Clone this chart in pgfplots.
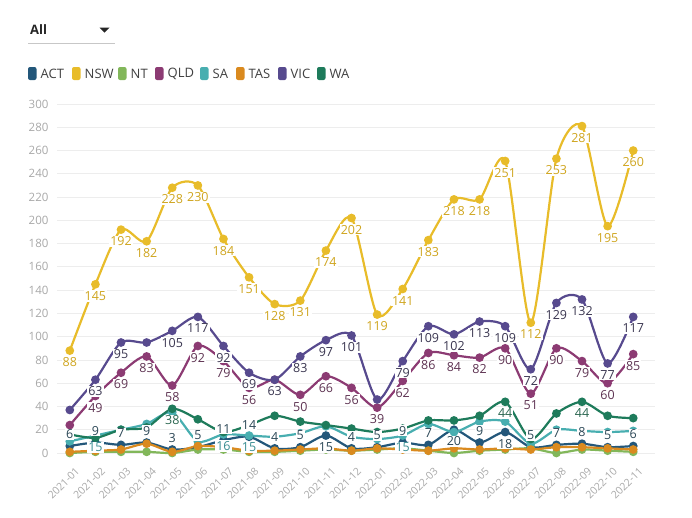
\documentclass[border=0pt]{standalone}
\usepackage{pgfplots}
\pgfplotsset{compat=1.18}
\usepackage{fontspec}
\setmainfont{Open Sans}
\definecolor{cACT}{HTML}{23577A}
\definecolor{cNSW}{HTML}{E8BC2A}
\definecolor{cNT}{HTML}{82B75A}
\definecolor{cQLD}{HTML}{8C3B73}
\definecolor{cSA}{HTML}{48AEB0}
\definecolor{cTAS}{HTML}{DA8A1F}
\definecolor{cVIC}{HTML}{574A8E}
\definecolor{cWA}{HTML}{1E7B5B}
\definecolor{tickgray}{HTML}{A8A8A8}
\definecolor{gridgray}{HTML}{EDEDED}
\definecolor{lNSW}{HTML}{CFA51E}
\definecolor{lVIC}{HTML}{3A3650}
\definecolor{lQLD}{HTML}{5E3352}
\definecolor{lACT}{HTML}{2B4756}
\definecolor{lSA}{HTML}{3A8E92}
\definecolor{lWA}{HTML}{2A6650}
\begin{document}
\begin{tikzpicture}[x=1pt,y=1pt]
\path[use as bounding box] (0,0) rectangle (692,-517);
% dropdown
\node[anchor=west, inner sep=0, font=\fontsize{13}{15}\selectfont\bfseries, text=black!85] at (30,-30) {All};
\fill[black!85] (99.5,-27.5) -- (109.5,-27.5) -- (104.5,-32.5) -- cycle;
\draw[black!22, line width=0.8] (28,-43) -- (115,-43);
% legend
\foreach \c/\t/\x in {cACT/ACT/28, cNSW/NSW/72, cNT/NT/118, cQLD/QLD/155, cSA/SA/200, cTAS/TAS/236, cVIC/VIC/278, cWA/WA/317}{
  \fill[\c, rounded corners=2] (\x,-67) rectangle ++(8.5,-13);
  \node[anchor=west, inner sep=0, font=\fontsize{13}{15}\selectfont, text=black!75] at (\x+12.5,-73.5) {\t};
}
\begin{axis}[
  at={(57pt,-453pt)}, anchor=south west, scale only axis,
  width=598pt, height=349pt,
  xmin=-0.5, xmax=22.85, ymin=0, ymax=300, clip=false,
  axis line style={draw=none}, major tick length=0pt,
  ytick distance=20, ymajorgrids, grid style={gridgray, line width=0.8pt},
  xtick={0,...,22},
  xticklabels={2021-01,2021-02,2021-03,2021-04,2021-05,2021-06,2021-07,2021-08,2021-09,2021-10,2021-11,2021-12,2022-01,2022-02,2022-03,2022-04,2022-05,2022-06,2022-07,2022-08,2022-09,2022-10,2022-11},
  x tick label style={rotate=45, anchor=north east, font=\fontsize{10.5}{11}\selectfont, text=tickgray, inner sep=0pt, xshift=-6pt, yshift=-13pt},
  y tick label style={font=\fontsize{11.5}{13}\selectfont, text=tickgray, xshift=-5pt},
  /pgf/number format/assume math mode=true,
  every axis plot/.append style={line width=2.2pt, smooth, tension=0.45, mark=*, mark size=3.2pt},
]
% series
\addplot[cACT, mark options={fill=cACT}] coordinates {(0,6)(1,9)(2,7)(3,9)(4,3)(5,5)(6,11)(7,14)(8,4)(9,5)(10,15)(11,4)(12,5)(13,9)(14,7)(15,20)(16,9)(17,18)(18,5)(19,7)(20,8)(21,5)(22,6)};
\addplot[cNSW, mark options={fill=cNSW}] coordinates {(0,88)(1,145)(2,192)(3,182)(4,228)(5,230)(6,184)(7,151)(8,128)(9,131)(10,174)(11,202)(12,119)(13,141)(14,183)(15,218)(16,218)(17,251)(18,112)(19,253)(20,281)(21,195)(22,260)};
\addplot[cNT, mark options={fill=cNT}] coordinates {(0,0)(1,1)(2,1)(3,1)(4,0)(5,3)(6,3)(7,1)(8,1)(9,2)(10,3)(11,2)(12,3)(13,4)(14,2)(15,0)(16,2)(17,3)(18,4)(19,0)(20,3)(21,2)(22,1)};
\addplot[cQLD, mark options={fill=cQLD}] coordinates {(0,24)(1,49)(2,69)(3,83)(4,58)(5,92)(6,79)(7,56)(8,63)(9,50)(10,66)(11,56)(12,39)(13,62)(14,86)(15,84)(16,82)(17,90)(18,51)(19,90)(20,79)(21,60)(22,85)};
\addplot[cSA, mark options={fill=cSA}] coordinates {(0,10)(1,15)(2,20)(3,25)(4,35)(5,10)(6,16)(7,15)(8,14)(9,17)(10,23)(11,14)(12,12)(13,15)(14,25)(15,18)(16,27)(17,27)(18,8)(19,20)(20,19)(21,18)(22,19)};
\addplot[cTAS, mark options={fill=cTAS}] coordinates {(0,1)(1,2)(2,3)(3,8)(4,1)(5,6)(6,5)(7,2)(8,2)(9,3)(10,4)(11,2)(12,4)(13,3)(14,2)(15,4)(16,3)(17,4)(18,3)(19,5)(20,5)(21,4)(22,3)};
\addplot[cVIC, mark options={fill=cVIC}] coordinates {(0,37)(1,63)(2,95)(3,95)(4,105)(5,117)(6,92)(7,69)(8,63)(9,83)(10,97)(11,101)(12,46)(13,79)(14,109)(15,102)(16,113)(17,109)(18,72)(19,129)(20,132)(21,77)(22,117)};
\addplot[cWA, mark options={fill=cWA}] coordinates {(0,16)(1,13)(2,20)(3,22)(4,38)(5,29)(6,18)(7,24)(8,32)(9,27)(10,24)(11,21)(12,18)(13,21)(14,28)(15,28)(16,32)(17,44)(18,12)(19,34)(20,44)(21,32)(22,30)};
% data labels
\pgfplotsset{lab/.style={draw=none, mark=none, forget plot, point meta=explicit symbolic, nodes near coords,
  every node near coord/.append style={font=\fontsize{12.5}{14}\selectfont, fill=white, inner sep=1pt, text=#1}}}
\pgfplotsset{below/.style={every node near coord/.append style={anchor=north, yshift=-5pt}},
             above/.style={every node near coord/.append style={anchor=south, yshift=5pt}}}
\addplot[lab=lACT, above] coordinates {(0,6)[6](1,9)[9](2,7)[7](3,9)[9](4,3)[3](5,5)[5](6,11)[11](7,14)[14](8,4)[4](9,5)[5](11,4)[4](12,5)[5](13,9)[9](14,7)[7](16,9)[9](18,5)[5](19,7)[7](20,8)[8](21,5)[5](22,6)[6]};
\addplot[lab=lACT, below] coordinates {(10,15)[15](15,20)[20](17,18)[18]};
\addplot[lab=lSA, below] coordinates {(1,15)[15](6,16)[16](7,15)[15](13,15)[15]};
\addplot[lab=lWA, below] coordinates {(4,38)[38](17,44)[44](20,44)[44]};
\addplot[lab=lQLD, below] coordinates {(1,49)[49](2,69)[69](3,83)[83](4,58)[58](5,92)[92](6,79)[79](7,56)[56](9,50)[50](10,66)[66](11,56)[56](12,39)[39](13,62)[62](14,86)[86](15,84)[84](16,82)[82](17,90)[90](18,51)[51](19,90)[90](20,79)[79](21,60)[60](22,85)[85]};
\addplot[lab=lVIC, below] coordinates {(1,63)[63](2,95)[95](4,105)[105](5,117)[117](6,92)[92](7,69)[69](8,63)[63](9,83)[83](10,97)[97](11,101)[101](13,79)[79](14,109)[109](15,102)[102](16,113)[113](17,109)[109](18,72)[72](19,129)[129](20,132)[132](21,77)[77](22,117)[117]};
\addplot[lab=lNSW, below] coordinates {(0,88)[88](1,145)[145](2,192)[192](3,182)[182](4,228)[228](5,230)[230](6,184)[184](7,151)[151](8,128)[128](9,131)[131](10,174)[174](11,202)[202](12,119)[119](13,141)[141](14,183)[183](15,218)[218](16,218)[218](17,251)[251](18,112)[112](19,253)[253](20,281)[281](21,195)[195](22,260)[260]};
\end{axis}
\end{tikzpicture}
\end{document}
